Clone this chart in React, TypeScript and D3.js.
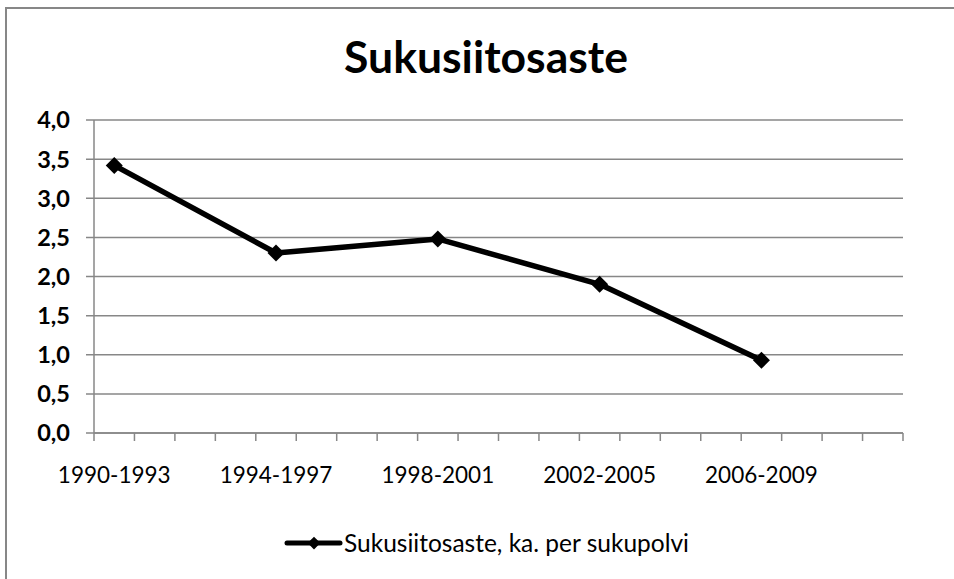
import React, { useMemo } from "react";
import * as d3 from "d3";

const W = 954;
const H = 579;
const PLOT = { left: 94, right: 903, top: 120, bottom: 433 };
const FONT = "Lato, 'Open Sans', sans-serif";
const GRID = "#878787";

// one slot per year, labels only on the first year of each period
const yearSlots = [
  "1990", "1991", "1992", "1993", "1994", "1995", "1996", "1997", "1998", "1999",
  "2000", "2001", "2002", "2003", "2004", "2005", "2006", "2007", "2008", "2009",
];
const periodLabels = ["1990-1993", "1994-1997", "1998-2001", "2002-2005", "2006-2009"];
const periodStart = ["1990", "1994", "1998", "2002", "2006"];
const values = [3.42, 2.3, 2.48, 1.9, 0.93];
const yTicks = [0, 0.5, 1, 1.5, 2, 2.5, 3, 3.5, 4];
const seriesName = "Sukusiitosaste, ka. per sukupolvi";
const title = "Sukusiitosaste";

const fmt = (v: number) => v.toFixed(1).replace(".", ",");

export default function App() {
  const x = useMemo(
    () => d3.scaleBand<string>().domain(yearSlots).range([PLOT.left, PLOT.right]),
    []
  );
  const y = useMemo(
    () => d3.scaleLinear().domain([0, 4]).range([PLOT.bottom, PLOT.top]),
    []
  );
  const cx = (k: string) => (x(k) ?? 0) + x.bandwidth() / 2;

  const pts: [number, number][] = values.map((v, i) => [cx(periodStart[i]), y(v)]);
  const line = d3.line()(pts) ?? "";
  const diamond = "M0,-8.5L8.5,0L0,8.5L-8.5,0Z";

  const tickXs = yearSlots.map((s) => x(s) ?? 0).concat([PLOT.right]);

  return (
    <svg
      width={W}
      height={H}
      style={{ position: "absolute", left: 0, top: 0, display: "block", background: "#fff" }}
      fontFamily={FONT}
    >
      <rect x={6} y={8} width={W + 10} height={H + 10} fill="#fff" stroke={GRID} strokeWidth={2} />

      <text x={486} y={73} textAnchor="middle" fontSize={44.5} fontWeight="bold" fill="#000">
        {title}
      </text>

      {/* gridlines + y labels */}
      {yTicks.map((t) => (
        <g key={t}>
          <line x1={PLOT.left - 8} x2={PLOT.right} y1={y(t)} y2={y(t)} stroke={GRID} strokeWidth={1.5} />
          <text
            x={70}
            y={y(t)}
            dy="0.36em"
            textAnchor="end"
            fontSize={23.5}
            fontWeight="bold"
            fill="#000"
          >
            {fmt(t)}
          </text>
        </g>
      ))}

      {/* axes */}
      <line x1={PLOT.left} x2={PLOT.left} y1={PLOT.top} y2={PLOT.bottom} stroke={GRID} strokeWidth={1.5} />
      <line x1={PLOT.left} x2={PLOT.right} y1={PLOT.bottom} y2={PLOT.bottom} stroke={GRID} strokeWidth={1.5} />
      {tickXs.map((tx, i) => (
        <line key={i} x1={tx} x2={tx} y1={PLOT.bottom} y2={PLOT.bottom + 8} stroke={GRID} strokeWidth={1.5} />
      ))}
      {periodLabels.map((l, i) => (
        <text key={l} x={cx(periodStart[i])} y={483} textAnchor="middle" fontSize={22.5} fill="#000">
          {l}
        </text>
      ))}

      {/* series */}
      <path d={line} fill="none" stroke="#000" strokeWidth={5.5} strokeLinejoin="round" />
      {pts.map(([px, py], i) => (
        <path key={i} d={diamond} transform={`translate(${px},${py})`} fill="#000" />
      ))}

      {/* legend */}
      <line x1={287} x2={340} y1={543} y2={543} stroke="#000" strokeWidth={5} strokeLinecap="round" />
      <path d={diamond} transform="translate(314,543) scale(0.75)" fill="#000" />
      <text x={344} y={543} dy="0.36em" fontSize={24.5} fill="#000">
        {seriesName}
      </text>
    </svg>
  );
}
